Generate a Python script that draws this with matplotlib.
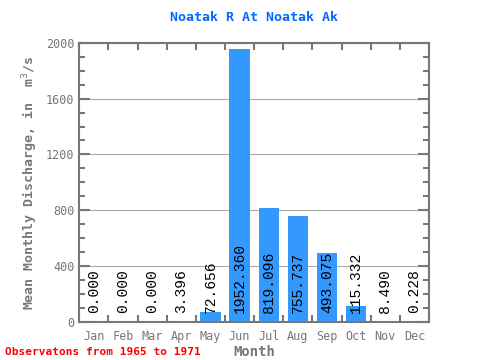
import numpy as np
import matplotlib
matplotlib.use("Agg")
from matplotlib import pyplot as plt
from matplotlib.ticker import MultipleLocator

months = ["Jan", "Feb", "Mar", "Apr", "May", "Jun", "Jul", "Aug", "Sep", "Oct", "Nov", "Dec"]
discharge = [0.000, 0.000, 0.000, 3.396, 72.656, 1952.360, 819.096, 755.737, 493.075, 115.332, 8.490, 0.228]
labels = ["0.000", "0.000", "0.000", "3.396", "72.656", "1952.360", "819.096", "755.737", "493.075", "115.332", "8.490", "0.228"]

plt.rcParams['font.family'] = ['DejaVu Sans Mono']
grey = "#777777"

fig = plt.figure(figsize=(4.8, 3.6), dpi=100)
ax = fig.add_axes([0.165, 0.106, 0.729, 0.775])

x = np.arange(len(months))
ax.bar(x, discharge, width=0.7, color="#3399ff", zorder=2)
for i, lab in enumerate(labels):
    ax.text(x[i], 60, lab, rotation=90, ha="center", va="bottom", fontsize=10.5,
            family="Liberation Mono", color="black", zorder=3)

ax.set_xlim(-0.5, 11.5)
ax.set_ylim(0, 2000)
ax.yaxis.set_major_locator(MultipleLocator(400))
ax.yaxis.set_minor_locator(MultipleLocator(100))
ax.set_xticks(x)
ax.set_xticklabels(months)
ax.set_xticks(np.arange(-0.5, 12, 1), minor=True)
ax.tick_params(axis="x", which="major", length=0, pad=6, labelsize=8.5, colors=grey)
ax.tick_params(axis="x", which="minor", length=5, width=1.5, color=grey, top=True, direction="in")
ax.tick_params(axis="y", which="major", length=8, width=1.5, color=grey, labelsize=8.5, labelcolor=grey, right=True, direction="in")
ax.tick_params(axis="y", which="minor", length=4, width=1.5, color=grey, right=True, direction="in")
ax.grid(axis="y", color="#aaaaaa", linewidth=0.8, zorder=0)
for s in ax.spines.values():
    s.set_color(grey)
    s.set_linewidth(1.5)

ax.set_title("Noatak R At Noatak Ak", color="#0066ff", fontsize=9.5, fontweight="bold", pad=16)
ax.set_xlabel("Month", color=grey, fontsize=10, fontweight="bold", labelpad=1)
ax.set_ylabel("Mean Monthly Discharge, in  m$^{3}$/s", color=grey, fontsize=9.5, fontweight="bold")
fig.text(0.01, 0.015, "Observatons from 1965 to 1971", color="red", fontsize=8, fontweight="bold")

fig.savefig("out.png", dpi=100)
